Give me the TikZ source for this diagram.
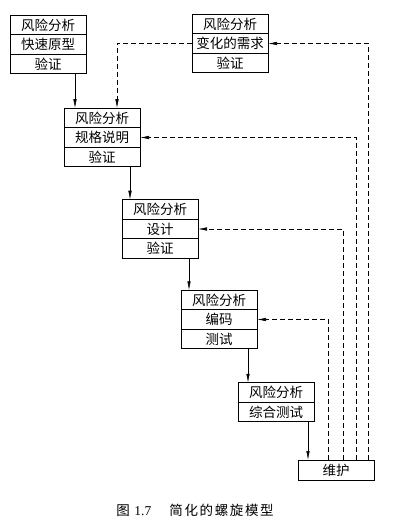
\documentclass[tikz,border=0pt]{standalone}
\usepackage{fontspec}
\setmainfont{Liberation Serif}
\newfontfamily\cjk{Noto Sans CJK SC}
\newfontfamily\cjkwide[LetterSpace=12]{Noto Sans CJK SC}
\usetikzlibrary{arrows.meta, positioning}

\begin{document}
\begin{tikzpicture}[x=1pt, y=-1pt,
  every node/.style={font=\cjk\fontsize{13.5}{15}\selectfont},
  row/.style={draw, line width=0.6pt, minimum width=76pt, minimum height=19.5pt, inner sep=0pt, outer sep=0pt},
  arrow/.style={line width=0.6pt, -{Latex[length=9pt, width=3.5pt]}},
  dasharrow/.style={arrow, dash pattern=on 5pt off 3pt}]
\useasboundingbox (0,0) rectangle (415,526);

% boxes
\node[row] (proto1) at (48,25) {风险分析};
\node[row, below=0pt of proto1] (proto2) {快速原型};
\node[row, below=0pt of proto2] (proto3) {验证};

\node[row] (chg1) at (230,24) {风险分析};
\node[row, below=0pt of chg1] (chg2) {变化的需求};
\node[row, below=0pt of chg2] (chg3) {验证};

\node[row] (spec1) at (102,118) {风险分析};
\node[row, below=0pt of spec1] (spec2) {规格说明};
\node[row, below=0pt of spec2] (spec3) {验证};

\node[row] (design1) at (160,209.5) {风险分析};
\node[row, below=0pt of design1] (design2) {设计};
\node[row, below=0pt of design2] (design3) {验证};

\node[row] (code1) at (219,300) {风险分析};
\node[row, below=0pt of code1] (code2) {编码};
\node[row, below=0pt of code2] (code3) {测试};

\node[row] (integ1) at (276,392.5) {风险分析};
\node[row, below=0pt of integ1] (integ2) {综合测试};

\node[row, minimum height=20pt] (maint) at (336,470) {维护};

\node (caption) at (195,510) {\cjkwide 图\ {\rmfamily 1.7}\quad\ 简化的螺旋模型};

% main flow
\draw[arrow] ([xshift=27pt]proto3.south) -- ([xshift=27pt]proto3.south |- spec1.north);
\draw[arrow] ([xshift=28pt]spec3.south) -- ([xshift=28pt]spec3.south |- design1.north);
\draw[arrow] ([xshift=29pt]design3.south) -- ([xshift=29pt]design3.south |- code1.north);
\draw[arrow] ([xshift=29pt]code3.south) -- ([xshift=29pt]code3.south |- integ1.north);
\draw[arrow] ([xshift=32pt]integ2.south) -- ([xshift=32pt]integ2.south |- maint.north);

% changes and feedback
\draw[dasharrow] (chg2.west) -| ([xshift=15pt]spec1.north);
\draw[dasharrow] ([xshift=32pt]maint.north) |- (chg2.east);
\draw[dasharrow] ([xshift=20pt]maint.north) |- (spec2.east);
\draw[dasharrow] ([xshift=7pt]maint.north) |- (design2.east);
\draw[dasharrow] ([xshift=-8pt]maint.north) |- (code2.east);
\end{tikzpicture}
\end{document}
